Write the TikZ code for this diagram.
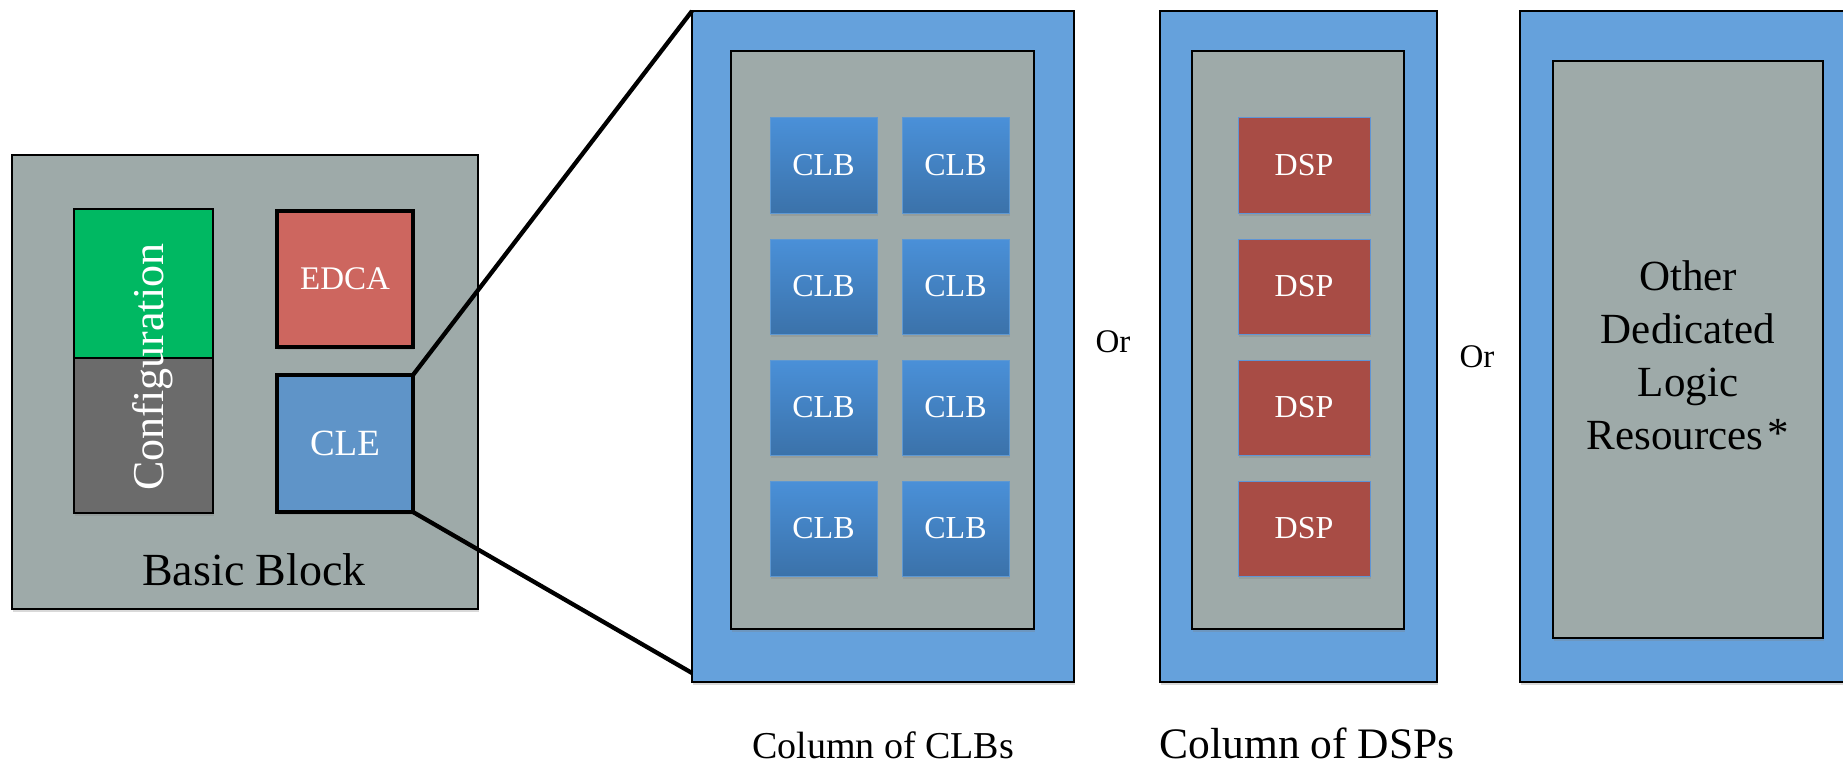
\documentclass[tikz,border=0pt]{standalone}
\usepackage{fontspec}
\setmainfont{Liberation Serif}
\usetikzlibrary{shadows}
\definecolor{bbgray}{HTML}{9EAAA9}
\definecolor{colblue}{HTML}{65A1DC}
\definecolor{cfggreen}{HTML}{00B862}
\definecolor{cfgdark}{HTML}{6B6B6B}
\definecolor{edcared}{HTML}{CD665F}
\definecolor{cleblue}{HTML}{5F94C8}
\definecolor{clbtop}{HTML}{4A90D8}
\definecolor{clbbot}{HTML}{3B72AA}
\definecolor{clbedge}{HTML}{5E98D2}
\definecolor{dspred}{HTML}{A84C45}
\definecolor{dspedge}{HTML}{5F95D5}
\begin{document}
\begin{tikzpicture}[x=1pt,y=-1pt,
  box/.style={rectangle, inner sep=0pt, outer sep=0pt},
  shad/.style={drop shadow={shadow xshift=1pt, shadow yshift=-3pt, opacity=0.3}},
  grayblock/.style={box, shad, fill=bbgray, draw=black, line width=1.5pt},
  column/.style={box, shad, fill=colblue, draw=black, line width=1.8pt},
  innerbox/.style={box, shad, fill=bbgray, draw=black, line width=1.8pt},
  thickbox/.style={box, shad, draw=black, line width=4.5pt},
  clbbox/.style={box, shad, top color=clbtop, bottom color=clbbot, draw=clbedge, line width=1pt,
     minimum width=107, minimum height=95, text=white, font=\fontsize{32}{32}\selectfont},
  dspbox/.style={box, shad, fill=dspred, draw=dspedge, line width=1pt,
     minimum width=132, minimum height=95, text=white, font=\fontsize{32}{32}\selectfont},
  zoomline/.style={line width=4.3pt, black},
  lbl/.style={anchor=base, inner sep=0pt}
]
\useasboundingbox (0,0) rectangle (1843,765);
\clip (0,0) rectangle (1843,765);

% Basic block
\node[grayblock, minimum width=466, minimum height=454] (bb) at (245,382) {};
\node[box, shad, fill=cfggreen, draw=black, line width=2pt, minimum width=139, minimum height=149] (cfgtop) at (143.5,283.5) {};
\node[box, shad, fill=cfgdark, draw=black, line width=2pt, minimum width=139, minimum height=155] (cfgbot) at (143.5,435.5) {};
\node[lbl, rotate=90, text=white, font=\fontsize{44}{44}\selectfont] (cfgtxt) at (163,367) {Configuration};
\node[thickbox, fill=edcared, minimum width=136, minimum height=136, text=white, font=\fontsize{33}{33}\selectfont] (edca) at (345,279) {EDCA};
\node[thickbox, fill=cleblue, minimum width=136, minimum height=137, text=white, font=\fontsize{37}{37}\selectfont] (cle) at (345,443.5) {CLE};
\node[lbl, font=\fontsize{46}{46}\selectfont] (bbtxt) at (254,585) {Basic Block};

% Column of CLBs
\node[column, minimum width=382, minimum height=671] (clbcol) at (883,346.5) {};
\node[innerbox, minimum width=303, minimum height=578] (clbin) at (882.5,340) {};
\foreach \r/\y in {1/165.5, 2/286.5, 3/407.5, 4/528.5} {
  \node[clbbox] (clbA\r) at (823.5,\y) {CLB};
  \node[clbbox] (clbB\r) at (955.5,\y) {CLB};
}

% Column of DSPs
\node[column, minimum width=277, minimum height=671] (dspcol) at (1298.5,346.5) {};
\node[innerbox, minimum width=212, minimum height=578] (dspin) at (1298,340) {};
\foreach \r/\y in {1/165.5, 2/286.5, 3/407.5, 4/528.5} {
  \node[dspbox] (dsp\r) at (1304,\y) {DSP};
}

% Other resources column
\node[column, minimum width=340, minimum height=671] (othcol) at (1690,346.5) {};
\node[innerbox, minimum width=270, minimum height=577] (othin) at (1688,349.5) {};
\node[align=center, inner sep=0pt, font=\fontsize{43}{53}\selectfont] (othtxt) at (1688,355)
  {Other\\Dedicated\\Logic\\Resources\kern4pt\raisebox{2pt}{*}};

% Or labels
\node[lbl, font=\fontsize{33}{33}\selectfont] (or1) at (1113,352) {Or};
\node[lbl, font=\fontsize{33}{33}\selectfont] (or2) at (1477,367) {Or};

% Bottom labels
\node[lbl, font=\fontsize{38}{38}\selectfont] (clblbl) at (883,758) {Column of CLBs};
\node[lbl, font=\fontsize{43.5}{43.5}\selectfont] (dsplbl) at (1307,758) {Column of DSPs};

% Zoom lines
\coordinate (zend) at ([yshift=9pt]clbcol.south west);
\draw[zoomline] (cle.north east) -- (clbcol.north west);
\draw[zoomline] (cle.south east) -- (zend);
\end{tikzpicture}
\end{document}
